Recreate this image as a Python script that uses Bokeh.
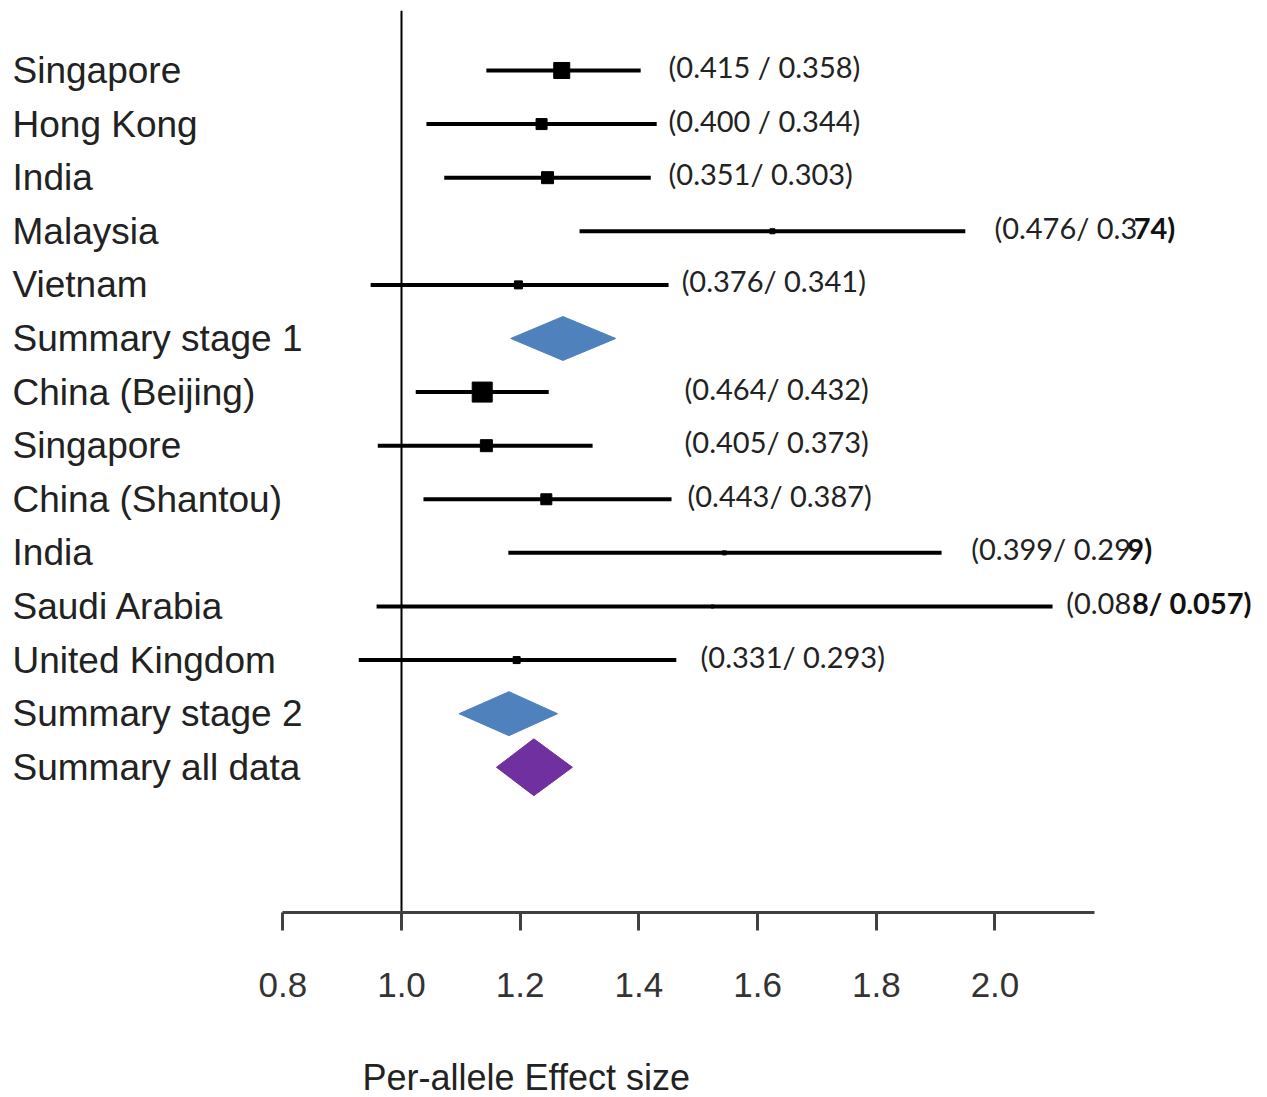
from bokeh.plotting import figure
from bokeh.models import Range1d, LinearAxis, FixedTicker, ColumnDataSource
from bokeh.core.properties import value
from bokeh.embed import file_html
from bokeh.resources import INLINE

# ---------------- data ----------------
row_labels = ["Singapore", "Hong Kong", "India", "Malaysia", "Vietnam",
              "Summary stage 1", "China (Beijing)", "Singapore", "China (Shantou)",
              "India", "Saudi Arabia", "United Kingdom", "Summary stage 2",
              "Summary all data"]

study_rows = [0, 1, 2, 3, 4, 6, 7, 8, 9, 10, 11]
study_est = [1.270, 1.236, 1.246, 1.625, 1.197, 1.136, 1.143, 1.244, 1.544, 1.524, 1.194]
study_lo = [1.143, 1.042, 1.072, 1.300, 0.948, 1.024, 0.960, 1.037, 1.180, 0.958, 0.928]
study_hi = [1.403, 1.430, 1.420, 1.950, 1.450, 1.248, 1.322, 1.455, 1.910, 2.097, 1.463]
study_weight = [16, 11, 12, 5, 8, 20, 12, 11, 4, 3, 7]

freq_normal = ["(0.415 / 0.358)", "(0.400 / 0.344)", "(0.351/ 0.303)", "(0.476/ 0.3",
               "(0.376/ 0.341)", "(0.464/ 0.432)", "(0.405/ 0.373)", "(0.443/ 0.387)",
               "(0.399/ 0.29", "(0.08", "(0.331/ 0.293)"]
freq_bold = ["", "", "", "74)", "", "", "", "", "9)", "8/ 0.057)", ""]
freq_x = [1.450, 1.450, 1.450, 1.999, 1.472, 1.477, 1.477, 1.482, 1.960, 2.120, 1.504]

summ_rows = [5, 12, 13]
summ_est = [1.272, 1.181, 1.223]
summ_lo = [1.184, 1.097, 1.160]
summ_hi = [1.361, 1.263, 1.288]
summ_half = [0.41, 0.41, 0.53]
summ_color = ["#4F81BD", "#4F81BD", "#7030A0"]

tick_values = [0.8, 1.0, 1.2, 1.4, 1.6, 1.8, 2.0]
tick_labels = ["0.8", "1.0", "1.2", "1.4", "1.6", "1.8", "2.0"]
x_title = "Per-allele Effect size"

SANS = "Liberation Sans"
ANN_FONT = "Lato"
ANN_SIZE = 29          # px
PX_PER_UNIT = 593.5    # horizontal scale of the frame

# layout of the vertical (row) scale
Y_TOP, Y_BOTTOM = -1.119, 19.161   # frame covers the full canvas height below the top border
AXIS_ROW = 15.709                  # where the x axis sits
TITLE_ROW = 18.79                  # where the x-axis title sits
LABEL_X = 0.3446                   # left edge of the row labels
TITLE_X = 0.9343                   # left edge of the axis title

# approximate Lato advance widths (em) to chain the bold tail after the normal part
_W = {"(": 0.30, ")": 0.30, ".": 0.23, "/": 0.37, " ": 0.193}
def text_width_px(s):
    return sum(_W.get(c, 0.58) for c in s) * ANN_SIZE

# ---------------- figure ----------------
p = figure(width=1267, height=1097, output_backend="svg", toolbar_location=None,
           x_range=Range1d(0.3378, 2.4457), y_range=Range1d(Y_BOTTOM, Y_TOP),
           x_axis_location=None, y_axis_location=None,
           min_border_left=8, min_border_right=8, min_border_top=10, min_border_bottom=0)
p.xgrid.visible = False
p.ygrid.visible = False
p.outline_line_color = None
p.background_fill_color = "white"
p.border_fill_color = "white"

xaxis = LinearAxis(ticker=FixedTicker(ticks=tick_values),
                   major_label_overrides={v: s for v, s in zip(tick_values, tick_labels)},
                   bounds=(0.8, 2.167), fixed_location=AXIS_ROW)
xaxis.axis_line_color = "#404040"
xaxis.axis_line_width = 3
xaxis.major_tick_line_color = "#404040"
xaxis.major_tick_line_width = 3
xaxis.major_tick_in = 0
xaxis.major_tick_out = 18
xaxis.minor_tick_line_color = None
xaxis.major_label_text_font = SANS
xaxis.major_label_text_font_size = "35px"
xaxis.major_label_text_color = "#333333"
xaxis.major_label_standoff = 43
p.add_layout(xaxis, "below")

# reference line at 1.0 (from the top of the frame down to the axis)
p.segment(x0=[1.0], x1=[1.0], y0=[Y_TOP], y1=[AXIS_ROW], line_color="black", line_width=2)

# confidence intervals and study boxes
src = ColumnDataSource(dict(y=study_rows, est=study_est, lo=study_lo, hi=study_hi,
                            w=study_weight))
p.segment(x0="lo", x1="hi", y0="y", y1="y", source=src, line_color="black", line_width=4)
p.scatter(x="est", y="y", size="w", marker="square", source=src,
          fill_color="black", line_color="black")

# summary diamonds
xs = [[lo, e, hi, e] for lo, e, hi in zip(summ_lo, summ_est, summ_hi)]
ys = [[r, r - h, r, r + h] for r, h in zip(summ_rows, summ_half)]
p.patches(xs=xs, ys=ys, fill_color=summ_color, line_color=summ_color, line_width=1)

# row labels
p.text(x=[LABEL_X] * len(row_labels), y=list(range(len(row_labels))), text=row_labels,
       text_font=value(SANS), text_font_size="37px", text_color="#222222",
       text_align="left", text_baseline="middle")

# frequency annotations
p.text(x=freq_x, y=study_rows, text=freq_normal, text_font=value(ANN_FONT),
       text_font_size=f"{ANN_SIZE}px", text_color="#222222", text_align="left",
       text_baseline="middle", y_offset=-4)
bx, by, bt = [], [], []
for x0, r, n, b in zip(freq_x, study_rows, freq_normal, freq_bold):
    if b:
        bx.append(x0 + text_width_px(n) / PX_PER_UNIT)
        by.append(r)
        bt.append(b)
p.text(x=bx, y=by, text=bt, text_font=value(ANN_FONT), text_font_style="bold",
       text_font_size=f"{ANN_SIZE}px", text_color="#111111", text_align="left",
       text_baseline="middle", y_offset=-4)

# x-axis title
p.text(x=[TITLE_X], y=[TITLE_ROW], text=[x_title], text_font=value(SANS),
       text_font_size="36px", text_color="#222222", text_align="left",
       text_baseline="middle")

open("out.html", "w").write(file_html(p, INLINE))
